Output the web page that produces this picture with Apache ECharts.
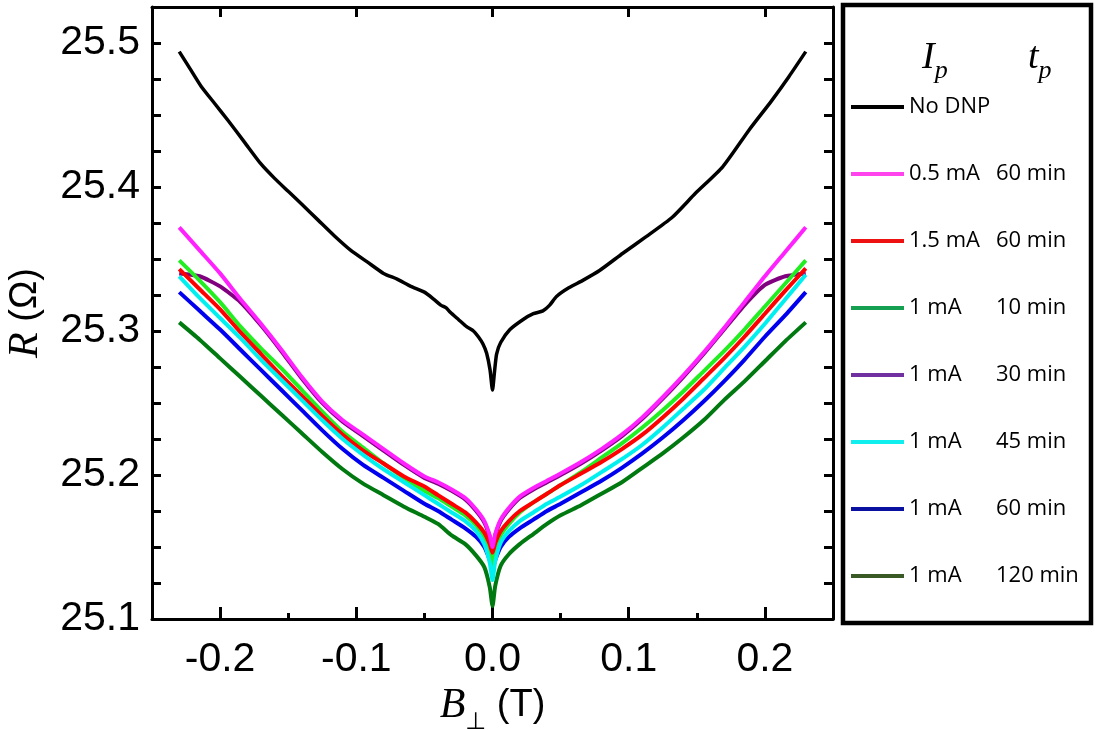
<!DOCTYPE html>
<html>
<head>
<meta charset="utf-8">
<script src="https://cdn.jsdelivr.net/npm/echarts@6/dist/echarts.min.js"></script>
<style>
  html, body { margin: 0; padding: 0; background: #fff; }
  #chart { width: 1104px; height: 730px; }
</style>
</head>
<body>
<div id="chart"></div>
<script>
// field values (T) shared by the pumped curves
const bGrid = [-0.23, -0.215, -0.2, -0.185, -0.17, -0.155, -0.14, -0.125, -0.11, -0.095, -0.08, -0.065, -0.05, -0.04, -0.03, -0.02, -0.012, -0.006, -0.002, 0,
  0.002, 0.006, 0.012, 0.02, 0.03, 0.04, 0.05, 0.065, 0.08, 0.095, 0.11, 0.125, 0.14, 0.155, 0.17, 0.185, 0.2, 0.215, 0.23];

// No DNP curve has its own sampling
const bBlack = [-0.23, -0.222, -0.214, -0.204, -0.194, -0.182, -0.17, -0.16, -0.15, -0.14, -0.128, -0.116, -0.104, -0.092, -0.08, -0.07, -0.06, -0.05, -0.043, -0.038, -0.034, -0.031, -0.025, -0.019, -0.014, -0.0104, -0.007, -0.0043, -0.0018, 0,
  0.0015, 0.003, 0.006, 0.0128, 0.0225, 0.03, 0.037, 0.042, 0.047, 0.056, 0.066, 0.0786, 0.0957, 0.1128, 0.132, 0.149, 0.169, 0.1884, 0.205, 0.2176, 0.23];
const rNoDnp = [25.494, 25.482, 25.470, 25.458, 25.446, 25.431, 25.416, 25.406, 25.397, 25.388, 25.377, 25.366, 25.356, 25.348, 25.340, 25.336, 25.331, 25.327, 25.322, 25.318, 25.316, 25.313, 25.308, 25.303, 25.300, 25.296, 25.291, 25.2845, 25.273, 25.259,
  25.272, 25.284, 25.292, 25.301, 25.308, 25.312, 25.314, 25.318, 25.324, 25.330, 25.335, 25.342, 25.354, 25.3655, 25.379, 25.3956, 25.414, 25.4396, 25.460, 25.4766, 25.494];

const r05mA60 = [25.372, 25.356, 25.340, 25.322, 25.305, 25.287, 25.268, 25.251, 25.238, 25.228, 25.218, 25.208, 25.199, 25.195, 25.190, 25.184, 25.176, 25.168, 25.158, 25.150,
  25.159, 25.169, 25.177, 25.185, 25.191, 25.196, 25.201, 25.209, 25.218, 25.228, 25.240, 25.254, 25.269, 25.285, 25.302, 25.320, 25.338, 25.355, 25.372];
const r15mA60 = [25.343, 25.329, 25.315, 25.299, 25.284, 25.269, 25.255, 25.241, 25.228, 25.217, 25.208, 25.199, 25.192, 25.186, 25.180, 25.174, 25.167, 25.160, 25.152, 25.146,
  25.153, 25.161, 25.168, 25.175, 25.181, 25.187, 25.193, 25.201, 25.209, 25.218, 25.228, 25.240, 25.253, 25.267, 25.281, 25.296, 25.312, 25.328, 25.3435];
const r1mA10 = [25.349, 25.335, 25.320, 25.303, 25.288, 25.274, 25.259, 25.244, 25.230, 25.219, 25.208, 25.198, 25.189, 25.184, 25.178, 25.172, 25.165, 25.157, 25.146, 25.137,
  25.147, 25.158, 25.166, 25.174, 25.181, 25.187, 25.193, 25.202, 25.212, 25.222, 25.233, 25.245, 25.258, 25.272, 25.286, 25.301, 25.317, 25.333, 25.349];
const r1mA30 = [25.340, 25.338, 25.331, 25.320, 25.304, 25.286, 25.267, 25.250, 25.237, 25.227, 25.217, 25.207, 25.198, 25.194, 25.189, 25.183, 25.175, 25.167, 25.157, 25.149,
  25.158, 25.168, 25.176, 25.184, 25.190, 25.195, 25.200, 25.208, 25.217, 25.227, 25.239, 25.253, 25.268, 25.284, 25.301, 25.318, 25.332, 25.338, 25.340];
const r1mA45 = [25.338, 25.323, 25.309, 25.295, 25.280, 25.266, 25.252, 25.238, 25.225, 25.214, 25.204, 25.195, 25.186, 25.180, 25.174, 25.168, 25.161, 25.152, 25.139, 25.127,
  25.140, 25.153, 25.161, 25.168, 25.174, 25.180, 25.185, 25.193, 25.202, 25.211, 25.221, 25.233, 25.246, 25.259, 25.274, 25.289, 25.305, 25.322, 25.339];
const r1mA60 = [25.327, 25.314, 25.301, 25.287, 25.273, 25.259, 25.245, 25.231, 25.218, 25.207, 25.198, 25.189, 25.180, 25.175, 25.169, 25.163, 25.157, 25.150, 25.141, 25.135,
  25.141, 25.150, 25.157, 25.163, 25.169, 25.175, 25.180, 25.188, 25.196, 25.205, 25.215, 25.226, 25.238, 25.251, 25.265, 25.280, 25.296, 25.311, 25.327];
const r1mA120 = [25.306, 25.294, 25.281, 25.268, 25.255, 25.242, 25.229, 25.216, 25.204, 25.194, 25.186, 25.178, 25.171, 25.166, 25.158, 25.152, 25.144, 25.136, 25.122, 25.109,
  25.123, 25.137, 25.145, 25.152, 25.159, 25.166, 25.172, 25.179, 25.187, 25.195, 25.205, 25.215, 25.226, 25.238, 25.252, 25.265, 25.279, 25.293, 25.306];

const xTicks = [-0.2, -0.1, 0, 0.1, 0.2];
const xMinorTicks = [-0.15, -0.05, 0.05, 0.15];

// legend rows: current, time
const currents = ['No DNP', '0.5 mA', '1.5 mA', '1 mA', '1 mA', '1 mA', '1 mA', '1 mA'];
const times = ['', '60 min', '60 min', '10 min', '30 min', '45 min', '60 min', '120 min'];
const lineColors = ['#000000', '#ff22ff', '#ff0000', '#22ee22', '#800080', '#00f0f0', '#0000ee', '#007a10'];
const legendColors = ['#000000', '#ff44ee', '#ee1111', '#14a050', '#7030a0', '#11eeee', '#0a10a0', '#3a5a25'];

const curves = [
  { x: bBlack, y: rNoDnp },
  { x: bGrid, y: r05mA60 },
  { x: bGrid, y: r15mA60 },
  { x: bGrid, y: r1mA10 },
  { x: bGrid, y: r1mA30 },
  { x: bGrid, y: r1mA45 },
  { x: bGrid, y: r1mA60 },
  { x: bGrid, y: r1mA120 }
];
// draw order, bottom first
const drawOrder = [0, 7, 6, 4, 3, 2, 5, 1];

const names = currents.map((c, i) => c + (times[i] ? ' ' + times[i] : ''));

const chart = echarts.init(document.getElementById('chart'));

const tickFont = { fontFamily: 'Liberation Sans', fontSize: 41, color: '#000' };
const axisLineStyle = { color: '#000', width: 3 };

const option = {
  animation: false,
  grid: { left: 152, right: 271, top: 7, bottom: 111, outerBoundsMode: 'none' },
  xAxis: [
    {
      type: 'value', min: -0.25, max: 0.25, position: 'bottom',
      axisLine: { onZero: false, lineStyle: axisLineStyle },
      axisTick: { inside: true, length: 12, lineStyle: { width: 3, color: '#000' }, customValues: xTicks },
      axisLabel: Object.assign({ margin: 20, customValues: xTicks, formatter: v => v.toFixed(1) }, tickFont),
      splitLine: { show: false },
      name: '{i|B}{s|⊥}{n| (T)}',
      nameLocation: 'middle', nameGap: 56,
      nameTextStyle: {
        rich: {
          i: { fontFamily: 'Liberation Serif', fontStyle: 'italic', fontSize: 42, color: '#000' },
          s: { fontFamily: 'DejaVu Sans', fontSize: 24, lineHeight: 58, verticalAlign: 'bottom', color: '#000' },
          n: { fontFamily: 'Liberation Sans', fontSize: 38, color: '#000' }
        }
      }
    },
    {
      type: 'value', min: -0.25, max: 0.25, position: 'bottom',
      axisLine: { show: false, onZero: false },
      axisTick: { inside: true, length: 6, lineStyle: { width: 3, color: '#000' }, customValues: xMinorTicks },
      axisLabel: { show: false }, splitLine: { show: false }
    },
    {
      type: 'value', min: -0.25, max: 0.25, position: 'top',
      axisLine: { onZero: false, lineStyle: axisLineStyle },
      axisTick: { inside: true, length: 10, lineStyle: { width: 3, color: '#000' }, customValues: xTicks },
      axisLabel: { show: false }, splitLine: { show: false }
    }
  ],
  yAxis: [
    {
      type: 'value', min: 25.1, max: 25.525, interval: 0.1, position: 'left',
      axisLine: { show: true, onZero: false, lineStyle: axisLineStyle },
      axisTick: { show: true, inside: true, length: 9, lineStyle: { width: 3, color: '#000' } },
      minorTick: { show: true, splitNumber: 4, length: 9, lineStyle: { width: 3, color: '#000' } },
      axisLabel: Object.assign({ margin: 12, showMaxLabel: false, formatter: v => v.toFixed(1) }, tickFont),
      splitLine: { show: false },
      name: '{i|R}{n| (Ω)}',
      nameLocation: 'middle', nameGap: 105, nameRotate: 90,
      nameTextStyle: {
        rich: {
          i: { fontFamily: 'Liberation Serif', fontStyle: 'italic', fontSize: 42, color: '#000' },
          n: { fontFamily: 'Liberation Sans', fontSize: 38, color: '#000' }
        }
      }
    },
    {
      type: 'value', min: 25.1, max: 25.525, interval: 0.1, position: 'right',
      axisLine: { show: true, onZero: false, lineStyle: axisLineStyle },
      axisTick: { show: true, inside: true, length: 9, lineStyle: { width: 3, color: '#000' } },
      minorTick: { show: true, splitNumber: 4, length: 9, lineStyle: { width: 3, color: '#000' } },
      axisLabel: { show: false }, splitLine: { show: false }
    }
  ],
  legend: {
    orient: 'vertical', left: 851, top: 92, padding: 0,
    icon: 'rect', itemWidth: 53, itemHeight: 4, itemGap: 37,
    data: names.map((n, i) => ({ name: n, itemStyle: { color: legendColors[i] } })),
    formatter: name => {
      const i = names.indexOf(name);
      return '{a|' + currents[i] + '}' + (times[i] ? '{b|' + times[i] + '}' : '');
    },
    textStyle: {
      fontFamily: 'Open Sans', fontSize: 22, color: '#000', lineHeight: 30,
      rich: {
        a: { fontFamily: 'Open Sans', fontSize: 22, width: 87, color: '#000' },
        b: { fontFamily: 'Open Sans', fontSize: 22, color: '#000' }
      }
    }
  },
  graphic: [
    { type: 'rect', shape: { x: 843, y: 5, width: 248, height: 618 }, style: { fill: 'none', stroke: '#000', lineWidth: 4.5 } },
    { type: 'text', x: 922, y: 32, style: { text: '{i|I}{s|p}', rich: {
      i: { fontFamily: 'Liberation Serif', fontStyle: 'italic', fontSize: 38, fill: '#000' },
      s: { fontFamily: 'Liberation Serif', fontStyle: 'italic', fontSize: 26, lineHeight: 52, verticalAlign: 'bottom', fill: '#000' } } } },
    { type: 'text', x: 1028, y: 32, style: { text: '{i|t}{s|p}', rich: {
      i: { fontFamily: 'Liberation Serif', fontStyle: 'italic', fontSize: 38, fill: '#000' },
      s: { fontFamily: 'Liberation Serif', fontStyle: 'italic', fontSize: 26, lineHeight: 52, verticalAlign: 'bottom', fill: '#000' } } } }
  ],
  series: drawOrder.map(i => ({
    name: names[i],
    type: 'line',
    xAxisIndex: 0, yAxisIndex: 0,
    showSymbol: false,
    smooth: 0.2,
    data: curves[i].x.map((b, k) => [b, curves[i].y[k]]),
    itemStyle: { color: lineColors[i] },
    lineStyle: { color: lineColors[i], width: i === 0 ? 3.5 : 4 },
    z: 2
  }))
};

chart.setOption(option);
</script>
</body>
</html>
